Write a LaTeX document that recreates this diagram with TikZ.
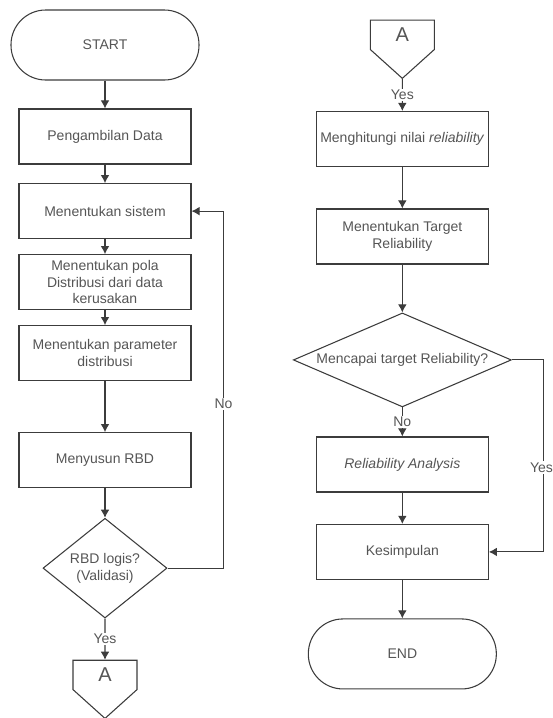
\documentclass[tikz,border=0pt]{standalone}
\usepackage{fontspec}
\setmainfont{Liberation Sans}
\usetikzlibrary{arrows.meta, shapes.geometric, shapes.symbols, calc}
\definecolor{linegray}{HTML}{3C3C3C}
\definecolor{textgray}{HTML}{555555}

\begin{document}
\begin{tikzpicture}[
    ->, >={Latex[length=6pt, width=6.5pt]}, color=linegray, line width=0.8pt,
    node distance=56pt,
    every node/.style={align=center, text=textgray, font=\fontsize{10.5}{12.5}\selectfont},
    process/.style={draw, rectangle, minimum width=129pt, minimum height=41.25pt, inner sep=2pt},
    terminal/.style={draw, rectangle, rounded corners=26pt, minimum width=141pt, minimum height=52.5pt},
    decision/.style={draw, diamond, inner sep=0pt},
    offpage/.style={draw, signal, signal to=south, signal pointer angle=96, minimum width=48pt, minimum height=29.5pt, font=\fontsize{15}{18}\selectfont},
    answer/.style={fill=white, inner sep=1pt}
]
\useasboundingbox (-78.75pt,33.75pt) rectangle (336pt,-504.75pt);

% left column
\node (start) [terminal] {START};
\node (data) [process, below of=start, yshift=-12.6pt] {Pengambilan Data};
\node (sistem) [process, below of=data] {Menentukan sistem};
\node (pola) [process, below of=sistem, yshift=2.75pt] {Menentukan pola\\ Distribusi dari data\\ kerusakan};
\node (param) [process, below of=pola, yshift=2.75pt] {Menentukan parameter\\ distribusi};
\node (rbd) [process, below of=param, yshift=-24.25pt] {Menyusun RBD};
\node (logis) [decision, minimum width=93pt, minimum height=69.75pt, below of=rbd, yshift=-25pt] {RBD logis?\\ (Validasi)};
\node (con_a) [offpage, below of=logis, yshift=-24.1pt] {A};

% right column
\node (con_b) [offpage, right of=start, xshift=167pt, yshift=7.6pt] {A};
\node (hitung) [process, below of=con_b, yshift=-22.1pt] {Menghitungi nilai \textit{reliability}};
\node (target) [process, below of=hitung, yshift=-17.1pt] {Menentukan Target\\ Reliability};
\node (capai) [decision, aspect=2.3, minimum width=163.5pt, minimum height=70.5pt, below of=target, yshift=-36.6pt] {Mencapai target Reliability?};
\node (analysis) [process, below of=capai, yshift=-22.4pt] {\textit{Reliability Analysis}};
\node (simpul) [process, below of=analysis, yshift=-9.6pt] {Kesimpulan};
\node (end) [terminal, below of=simpul, yshift=-20.5pt] {END};

\coordinate (loop_no) at ($(sistem.east)+(24pt,0)$);
\coordinate (loop_yes) at ($(simpul.east)+(41.25pt,0)$);

\draw (start) -- (data);
\draw (data) -- (sistem);
\draw (sistem) -- (pola);
\draw (pola) -- (param);
\draw (param) -- (rbd);
\draw (rbd) -- (logis);
\draw (logis) -- node[answer] {Yes} (con_a);
\draw (logis.east) -| node[answer, pos=0.73] {No} (loop_no) -- (sistem.east);

\draw (con_b) -- node[answer] {Yes} (hitung);
\draw (hitung) -- (target);
\draw (target) -- (capai);
\draw (capai) -- node[answer] {No} (analysis);
\draw (analysis) -- (simpul);
\draw (capai.east) -| node[answer, pos=0.78, xshift=-1.8pt] {Yes} (loop_yes) -- (simpul.east);
\draw (simpul) -- (end);
\end{tikzpicture}
\end{document}
